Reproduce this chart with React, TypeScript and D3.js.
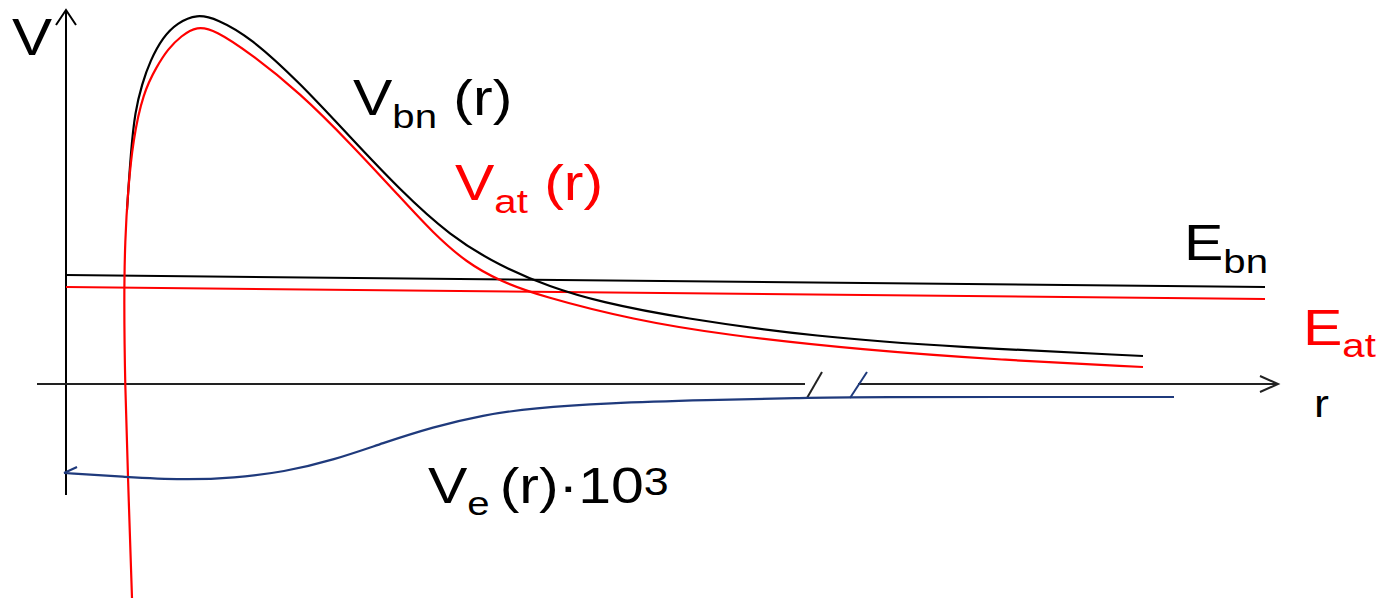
import React from "react";
import * as d3 from "d3";

// ---- data (abstract r / V units) ----
const bnR = [0.61, 0.65, 0.69, 0.76, 0.84, 0.97, 1.11, 1.31, 1.51, 1.84, 2.34, 2.84, 3.34, 3.84, 4.34, 4.84, 5.34, 6.14, 7.51, 8.89, 10.77];
const bnV = [1.74, 2.34, 2.72, 3.0, 3.23, 3.47, 3.61, 3.7, 3.65, 3.47, 3.01, 2.47, 1.94, 1.48, 1.18, 0.97, 0.82, 0.66, 0.47, 0.37, 0.28];

const atR = [0.66, 0.62, 0.59, 0.58, 0.59, 0.62, 0.67, 0.77, 0.91, 1.02, 1.15, 1.31, 1.49, 1.84, 2.34, 2.84, 3.34, 3.67, 4.01, 4.34, 4.74, 5.68, 6.59, 7.97, 9.35, 10.77];
const atV = [-2.14, -0.94, 0, 0.84, 1.44, 1.94, 2.44, 2.91, 3.18, 3.35, 3.48, 3.58, 3.54, 3.31, 2.91, 2.41, 1.87, 1.51, 1.21, 1.03, 0.88, 0.64, 0.49, 0.34, 0.24, 0.17];

const eR = [-0.02, 0.59, 1.18, 1.68, 2.18, 2.68, 3.17, 3.67, 4.17, 4.67, 5.41, 6.41, 7.4, 7.74, 11.08];
const eV = [-0.89, -0.93, -0.96, -0.94, -0.88, -0.76, -0.59, -0.43, -0.31, -0.24, -0.19, -0.16, -0.14, -0.13, -0.13];
const hookR = [0.11, -0.02];
const hookV = [-0.83, -0.89];

const levelR = [0, 11.99];
const ebnV = [1.09, 0.97];
const eatV = [0.97, 0.85];

const vAxisV = [-1.11, 3.74];
const hAxisR = [-0.29, 12.12];
const breakR = [7.39, 7.92];
const slash1R = [7.41, 7.56];
const slash2R = [7.84, 8.01];
const slashV = [-0.14, 0.12];

const W = 1377;
const H = 598;

const x = d3.scaleLinear().domain([0, 12.12]).range([66, 1278]);
const y = d3.scaleLinear().domain([0, 3.68]).range([384, 16]);

const zip = (a: number[], b: number[]) => a.map((v, i) => [v, b[i]] as [number, number]);

const smooth = d3
  .line<[number, number]>()
  .x((d) => x(d[0]))
  .y((d) => y(d[1]))
  .curve(d3.curveBasis);

const straight = d3
  .line<[number, number]>()
  .x((d) => x(d[0]))
  .y((d) => y(d[1]));

const FONT = "'Liberation Sans', Arial, sans-serif";
const SX = 1.18;

function Label(props: { px: number; py: number; color: string; children: React.ReactNode; size?: number }) {
  return (
    <text
      transform={`translate(${props.px},${props.py}) scale(${SX},1)`}
      fill={props.color}
      fontFamily={FONT}
      fontSize={props.size ?? 50}
      style={{ whiteSpace: "pre" }}
    >
      {props.children}
    </text>
  );
}

export default function App() {
  const ax0 = x(0);
  const axY0 = y(0);
  const vTop = y(vAxisV[1]);
  const hEnd = x(hAxisR[1]);
  const navy = "#1f3a7c";
  return (
    <svg width={W} height={H} style={{ position: "absolute", left: 0, top: 0, background: "#fff" }}>
      {/* vertical axis */}
      <line x1={ax0} x2={ax0} y1={y(vAxisV[0])} y2={vTop} stroke="#000" strokeWidth={2} />
      <polyline
        points={`${ax0 - 10},${vTop + 15} ${ax0},${vTop} ${ax0 + 10},${vTop + 15}`}
        fill="none"
        stroke="#000"
        strokeWidth={2}
      />
      {/* horizontal axis with break */}
      <line x1={x(hAxisR[0])} x2={x(breakR[0])} y1={axY0} y2={axY0} stroke="#222" strokeWidth={2} />
      <line x1={x(breakR[1])} x2={hEnd} y1={axY0} y2={axY0} stroke="#222" strokeWidth={2} />
      <polyline
        points={`${hEnd - 18},${axY0 - 8} ${hEnd},${axY0} ${hEnd - 18},${axY0 + 8}`}
        fill="none"
        stroke="#222"
        strokeWidth={2}
      />
      <path d={straight(zip(slash1R, slashV)) || ""} stroke="#222" strokeWidth={2} fill="none" />
      <path d={straight(zip(slash2R, slashV)) || ""} stroke={navy} strokeWidth={2} fill="none" />

      {/* energy levels */}
      <path d={straight(zip(levelR, ebnV)) || ""} stroke="#000" strokeWidth={2} fill="none" />
      <path d={straight(zip(levelR, eatV)) || ""} stroke="#ff0000" strokeWidth={2} fill="none" />

      {/* potentials */}
      <path d={smooth(zip(bnR, bnV)) || ""} stroke="#000" strokeWidth={2.2} fill="none" />
      <path d={smooth(zip(atR, atV)) || ""} stroke="#ff0000" strokeWidth={2.2} fill="none" />
      <path d={smooth(zip(eR, eV)) || ""} stroke={navy} strokeWidth={2.2} fill="none" />
      <path d={straight(zip(hookR, hookV)) || ""} stroke={navy} strokeWidth={2.2} fill="none" />

      {/* labels */}
      <Label px={12} py={55} color="#000" size={51}>V</Label>
      <Label px={353} py={115} color="#000">
        <tspan>V</tspan>
        <tspan fontSize={34} dy={13}>bn</tspan>
        <tspan dy={-13}> (r)</tspan>
      </Label>
      <Label px={455} py={200} color="#ff0000">
        <tspan>V</tspan>
        <tspan fontSize={34} dy={13}>at</tspan>
        <tspan dy={-13}> (r)</tspan>
      </Label>
      <Label px={1184} py={260} color="#000">
        <tspan>E</tspan>
        <tspan fontSize={34} dy={13}>bn</tspan>
      </Label>
      <Label px={1303} py={345} color="#ff0000">
        <tspan>E</tspan>
        <tspan fontSize={34} dy={12}>at</tspan>
      </Label>
      <Label px={1314} py={417} color="#000" size={38}>r</Label>
      <Label px={428} py={503} color="#000">
        <tspan>V</tspan>
        <tspan fontSize={34} dy={12}>e</tspan>
        <tspan dy={-12} dx={8.5}>(r)·10</tspan>
        <tspan fontSize={38} dy={-8}>3</tspan>
      </Label>
    </svg>
  );
}
